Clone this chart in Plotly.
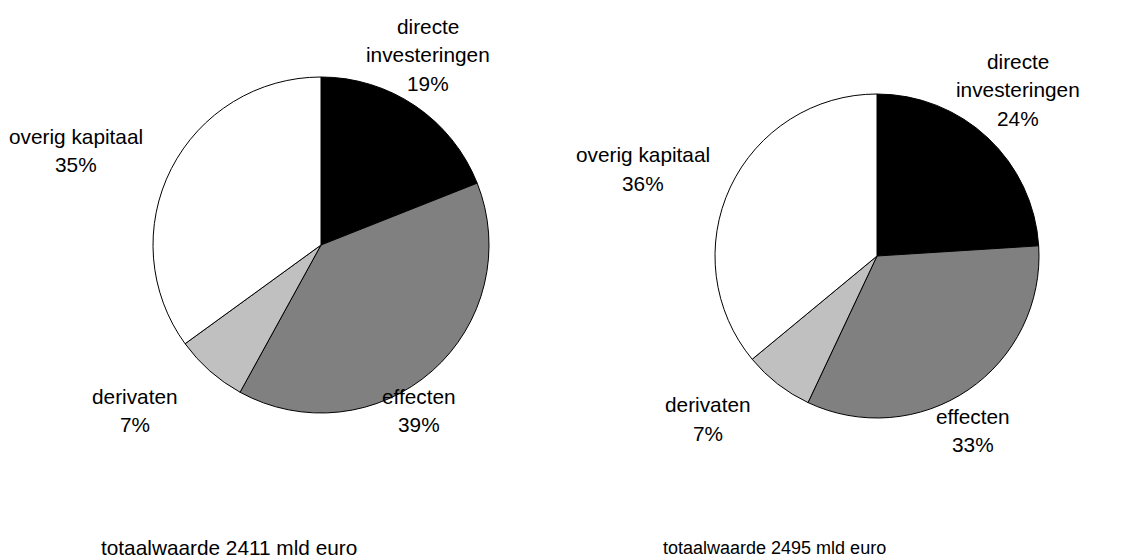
import plotly.graph_objects as go

# Components of the capital account (share of total, %)
categories = ["directe investeringen", "effecten", "derivaten", "overig kapitaal"]
label_lines = [["directe", "investeringen"], ["effecten"], ["derivaten"], ["overig kapitaal"]]
shares_left = [19, 39, 7, 35]
shares_right = [24, 33, 7, 36]
totals = [2411, 2495]  # mld euro

colors = ["#000000", "#808080", "#c0c0c0", "#ffffff"]

W, H = 1132, 560
FONT = "Liberation Sans, Arial, Helvetica, sans-serif"


def px_domain(cx, cy, r):
    return dict(x=[(cx - r) / W, (cx + r) / W], y=[1 - (cy + r) / H, 1 - (cy - r) / H])


fig = go.Figure()
pies = [
    dict(values=shares_left, cx=321, cy=245, r=168),
    dict(values=shares_right, cx=877, cy=256, r=162),
]
for p in pies:
    fig.add_trace(go.Pie(
        labels=categories,
        values=p["values"],
        sort=False,
        direction="clockwise",
        rotation=0,
        marker=dict(colors=colors, line=dict(color="#000000", width=1)),
        textinfo="none",
        hoverinfo="skip",
        showlegend=False,
        domain=px_domain(p["cx"], p["cy"], p["r"]),
    ))

annotations = []


def add_line(text, cx, baseline, size):
    mid = baseline - 0.3465 * size
    annotations.append(dict(
        text=text, x=cx / W, y=1 - mid / H, xref="paper", yref="paper",
        xanchor="center", yanchor="middle", showarrow=False,
        font=dict(family=FONT, size=size, color="#000000"),
    ))


# label anchors: (center x, first baseline) in pixels for each category
label_pos = [
    [(428, 33.3), (418.5, 403.3), (135, 403.3), (76, 143.3)],
    [(1018, 68.3), (973, 423.3), (708, 411.7), (643, 161.7)],
]
LINE = 28.6
SIZE = 20.8
for shares, positions in zip([shares_left, shares_right], label_pos):
    for lines, val, (x, y0) in zip(label_lines, shares, positions):
        for i, t in enumerate(lines + [f"{val}%"]):
            add_line(t, x, y0 + i * LINE, SIZE)

add_line(f"totaalwaarde {totals[0]} mld euro", 229, 554.5, 20.8)
add_line(f"totaalwaarde {totals[1]} mld euro", 774.5, 554.5, 18)

fig.update_layout(
    width=W, height=H,
    margin=dict(l=0, r=0, t=0, b=0),
    paper_bgcolor="#ffffff",
    plot_bgcolor="#ffffff",
    annotations=annotations,
    font=dict(family=FONT),
)

fig.write_html("out.html", config={"displayModeBar": False})
